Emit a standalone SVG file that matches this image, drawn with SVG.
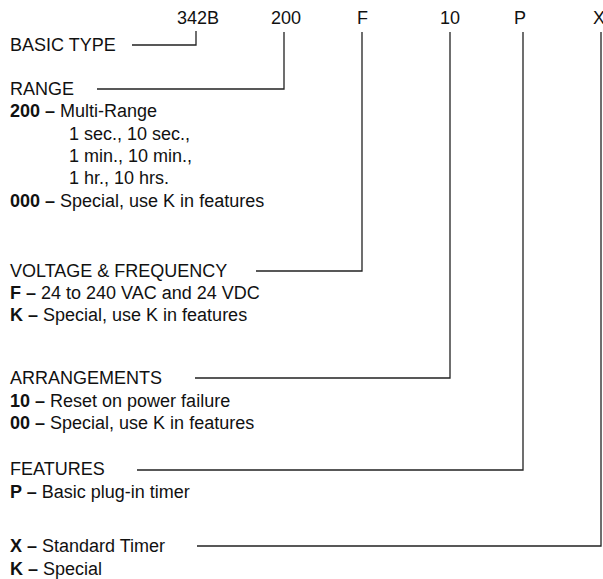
<svg xmlns="http://www.w3.org/2000/svg" width="603" height="579" viewBox="0 0 603 579">
<style>
text{font-family:"Liberation Sans",Arial,sans-serif;font-size:18px;fill:#111}
.b{font-weight:bold}
.c{fill:none;stroke:#222;stroke-width:1.3}
</style>
<rect width="603" height="579" fill="#fff"/>
<g id="codes">
<text x="177" y="24">342B</text>
<text x="271" y="24">200</text>
<text x="357" y="24">F</text>
<text x="440" y="24">10</text>
<text x="514" y="24">P</text>
<text x="593" y="24">X</text>
</g>
<g id="basic-type"><text x="10" y="51">BASIC TYPE</text></g>
<g id="range">
<text x="10" y="95">RANGE</text>
<text x="10" y="117"><tspan class="b">200 –</tspan> Multi-Range</text>
<text x="69" y="140">1 sec., 10 sec.,</text>
<text x="69" y="162">1 min., 10 min.,</text>
<text x="69" y="184">1 hr., 10 hrs.</text>
<text x="10" y="207"><tspan class="b">000 –</tspan> Special, use K in features</text>
</g>
<g id="voltage">
<text x="10" y="277">VOLTAGE &amp; FREQUENCY</text>
<text x="10" y="299"><tspan class="b">F –</tspan> 24 to 240 VAC and 24 VDC</text>
<text x="10" y="321"><tspan class="b">K –</tspan> Special, use K in features</text>
</g>
<g id="arrangements">
<text x="10" y="384">ARRANGEMENTS</text>
<text x="10" y="407"><tspan class="b">10 –</tspan> Reset on power failure</text>
<text x="10" y="429"><tspan class="b">00 –</tspan> Special, use K in features</text>
</g>
<g id="features">
<text x="10" y="475">FEATURES</text>
<text x="10" y="498"><tspan class="b">P –</tspan> Basic plug-in timer</text>
</g>
<g id="timer">
<text x="10" y="552"><tspan class="b">X –</tspan> Standard Timer</text>
<text x="10" y="575"><tspan class="b">K –</tspan> Special</text>
</g>
<g id="connectors">
<polyline class="c" points="132,45 196,45 196,31"/>
<polyline class="c" points="97,89 284,89 284,32"/>
<polyline class="c" points="256,271 362,271 362,32"/>
<polyline class="c" points="195,378 450,378 450,32"/>
<polyline class="c" points="137,470 523,470 523,32"/>
<polyline class="c" points="197,546 601,546 601,32"/>
</g>
</svg>
